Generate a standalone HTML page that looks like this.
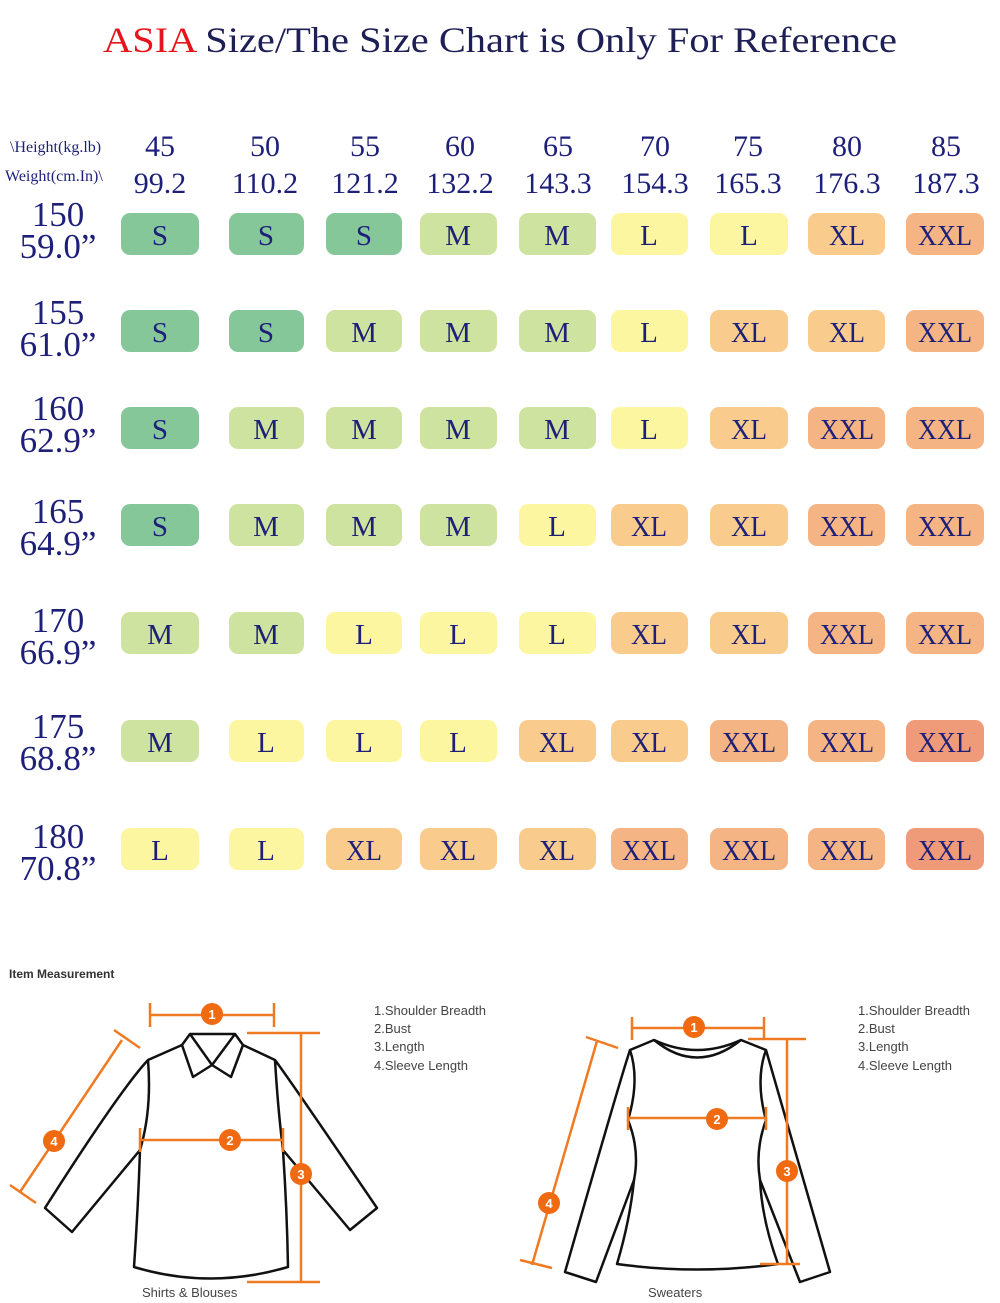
<!DOCTYPE html>
<html><head><meta charset="utf-8"><style>
html,body{margin:0;padding:0;background:#fff;}
svg{display:block;}
.s{font-family:"Liberation Serif",serif;fill:#1d1f78;}
.c{font-family:"Liberation Serif",serif;fill:#1d1f78;font-size:30px;text-anchor:middle;}
.l{font-family:"Liberation Sans",sans-serif;font-size:13px;fill:#444;}
.o{stroke:#f07a22;stroke-width:2.5;fill:none;}
.k{stroke:#111;stroke-width:2.5;fill:none;stroke-linejoin:round;}
.n{font-family:"Liberation Sans",sans-serif;font-size:13px;font-weight:bold;fill:#fff;text-anchor:middle;}
</style></head><body>
<svg width="1000" height="1303" viewBox="0 0 1000 1303" xmlns="http://www.w3.org/2000/svg">
<text x="103" y="52" textLength="794" lengthAdjust="spacingAndGlyphs" font-family="Liberation Serif, serif" font-size="36" fill="#1d1f55"><tspan fill="#e8141c">ASIA</tspan> Size/The Size Chart is Only For Reference</text>
<text x="10" y="152" class="s" font-size="16">\Height(kg.lb)</text>
<text x="5" y="181" class="s" font-size="16">Weight(cm.In)\</text>
<g class="c">
<text x="160" y="156">45</text><text x="265" y="156">50</text><text x="365" y="156">55</text><text x="460" y="156">60</text><text x="558" y="156">65</text><text x="655" y="156">70</text><text x="748" y="156">75</text><text x="847" y="156">80</text><text x="946" y="156">85</text>
<text x="160" y="193">99.2</text><text x="265" y="193">110.2</text><text x="365" y="193">121.2</text><text x="460" y="193">132.2</text><text x="558" y="193">143.3</text><text x="655" y="193">154.3</text><text x="748" y="193">165.3</text><text x="847" y="193">176.3</text><text x="946" y="193">187.3</text>
</g>
<g class="c" style="font-size:35px">
<text x="58" y="226">150</text><text x="58" y="258">59.0”</text>
<text x="58" y="324">155</text><text x="58" y="356">61.0”</text>
<text x="58" y="420">160</text><text x="58" y="452">62.9”</text>
<text x="58" y="523">165</text><text x="58" y="555">64.9”</text>
<text x="58" y="632">170</text><text x="58" y="664">66.9”</text>
<text x="58" y="738">175</text><text x="58" y="770">68.8”</text>
<text x="58" y="848">180</text><text x="58" y="880">70.8”</text>
</g>
<text x="9" y="978" font-family="Liberation Sans, sans-serif" font-size="12" font-weight="bold" fill="#333">Item Measurement</text>
<path class="k" d="M190,1034 L235,1034 L243,1045 L275,1060 Q290,1080 377,1208 L350,1230 L283,1150 Q287,1210 288,1267 Q210,1290 134,1267 Q138,1210 140,1150 L72,1232 L45,1208 Q120,1090 148,1060 L182,1045 Z"/>
<path class="k" d="M190,1034 L212,1065 L235,1034 M182,1045 L193,1077 L212,1065 L231,1077 L243,1045 M148,1060 Q152,1110 140,1150 M275,1060 Q278,1110 283,1150"/>
<path class="o" d="M150,1015 H274 M150,1003 V1027 M274,1003 V1027 M140,1140 H283 M140,1128 V1152 M283,1128 V1152 M301,1033 V1282 M247,1033 H320 M247,1282 H320 M122,1040 L20,1192 M114,1030 L140,1048 M10,1185 L36,1203"/>
<circle cx="212" cy="1014" r="11" fill="#f06a12"/><text x="212" y="1019" class="n">1</text>
<circle cx="230" cy="1140" r="11" fill="#f06a12"/><text x="230" y="1145" class="n">2</text>
<circle cx="301" cy="1174" r="11" fill="#f06a12"/><text x="301" y="1179" class="n">3</text>
<circle cx="54" cy="1141" r="11" fill="#f06a12"/><text x="54" y="1146" class="n">4</text>
<text x="142" y="1297" class="l">Shirts &amp; Blouses</text>
<text class="l" x="374" y="1015">1.Shoulder Breadth</text><text class="l" x="374" y="1033">2.Bust</text><text class="l" x="374" y="1051">3.Length</text><text class="l" x="374" y="1070">4.Sleeve Length</text>
<path class="k" d="M654,1040 Q697,1060 741,1040 L766,1050 Q775,1080 830,1272 L800,1282 L760,1180 Q762,1220 778,1264 Q697,1275 617,1264 Q630,1220 634,1180 L596,1282 L565,1272 Q620,1080 630,1050 Z"/>
<path class="k" d="M630,1050 Q640,1080 628,1120 Q640,1150 634,1180 M766,1050 Q755,1080 766,1120 Q755,1150 760,1180 M654,1040 Q697,1075 741,1040"/>
<path class="o" d="M632,1028 H764 M632,1017 V1040 M764,1017 V1040 M628,1118 H766 M628,1107 V1130 M766,1107 V1130 M787,1039 V1264 M748,1039 H806 M760,1264 H800 M597,1041 L532,1265 M586,1037 L618,1048 M520,1260 L552,1268"/>
<circle cx="694" cy="1027" r="11" fill="#f06a12"/><text x="694" y="1032" class="n">1</text>
<circle cx="717" cy="1119" r="11" fill="#f06a12"/><text x="717" y="1124" class="n">2</text>
<circle cx="787" cy="1171" r="11" fill="#f06a12"/><text x="787" y="1176" class="n">3</text>
<circle cx="549" cy="1203" r="11" fill="#f06a12"/><text x="549" y="1208" class="n">4</text>
<text x="648" y="1297" class="l">Sweaters</text>
<text class="l" x="858" y="1015">1.Shoulder Breadth</text><text class="l" x="858" y="1033">2.Bust</text><text class="l" x="858" y="1051">3.Length</text><text class="l" x="858" y="1070">4.Sleeve Length</text>

<g font-family="Liberation Serif, serif" font-size="29" fill="#1d1f78" text-anchor="middle">
<rect x="121" y="213" width="78" height="42" rx="9" fill="#86c79a"/><text x="160" y="245">S</text>
<rect x="229" y="213" width="75" height="42" rx="9" fill="#86c79a"/><text x="266" y="245">S</text>
<rect x="326" y="213" width="76" height="42" rx="9" fill="#86c79a"/><text x="364" y="245">S</text>
<rect x="420" y="213" width="77" height="42" rx="9" fill="#cfe3a0"/><text x="458" y="245">M</text>
<rect x="519" y="213" width="77" height="42" rx="9" fill="#cfe3a0"/><text x="557" y="245">M</text>
<rect x="611" y="213" width="77" height="42" rx="9" fill="#fdf6a0"/><text x="649" y="245">L</text>
<rect x="710" y="213" width="78" height="42" rx="9" fill="#fdf6a0"/><text x="749" y="245">L</text>
<rect x="808" y="213" width="77" height="42" rx="9" fill="#f9cc8e"/><text x="847" y="245" textLength="36" lengthAdjust="spacingAndGlyphs">XL</text>
<rect x="906" y="213" width="78" height="42" rx="9" fill="#f4b483"/><text x="945" y="245" textLength="54" lengthAdjust="spacingAndGlyphs">XXL</text>

<rect x="121" y="310" width="78" height="42" rx="9" fill="#86c79a"/><text x="160" y="342">S</text>
<rect x="229" y="310" width="75" height="42" rx="9" fill="#86c79a"/><text x="266" y="342">S</text>
<rect x="326" y="310" width="76" height="42" rx="9" fill="#cfe3a0"/><text x="364" y="342">M</text>
<rect x="420" y="310" width="77" height="42" rx="9" fill="#cfe3a0"/><text x="458" y="342">M</text>
<rect x="519" y="310" width="77" height="42" rx="9" fill="#cfe3a0"/><text x="557" y="342">M</text>
<rect x="611" y="310" width="77" height="42" rx="9" fill="#fdf6a0"/><text x="649" y="342">L</text>
<rect x="710" y="310" width="78" height="42" rx="9" fill="#f9cc8e"/><text x="749" y="342" textLength="36" lengthAdjust="spacingAndGlyphs">XL</text>
<rect x="808" y="310" width="77" height="42" rx="9" fill="#f9cc8e"/><text x="847" y="342" textLength="36" lengthAdjust="spacingAndGlyphs">XL</text>
<rect x="906" y="310" width="78" height="42" rx="9" fill="#f4b483"/><text x="945" y="342" textLength="54" lengthAdjust="spacingAndGlyphs">XXL</text>

<rect x="121" y="407" width="78" height="42" rx="9" fill="#86c79a"/><text x="160" y="439">S</text>
<rect x="229" y="407" width="75" height="42" rx="9" fill="#cfe3a0"/><text x="266" y="439">M</text>
<rect x="326" y="407" width="76" height="42" rx="9" fill="#cfe3a0"/><text x="364" y="439">M</text>
<rect x="420" y="407" width="77" height="42" rx="9" fill="#cfe3a0"/><text x="458" y="439">M</text>
<rect x="519" y="407" width="77" height="42" rx="9" fill="#cfe3a0"/><text x="557" y="439">M</text>
<rect x="611" y="407" width="77" height="42" rx="9" fill="#fdf6a0"/><text x="649" y="439">L</text>
<rect x="710" y="407" width="78" height="42" rx="9" fill="#f9cc8e"/><text x="749" y="439" textLength="36" lengthAdjust="spacingAndGlyphs">XL</text>
<rect x="808" y="407" width="77" height="42" rx="9" fill="#f4b483"/><text x="847" y="439" textLength="54" lengthAdjust="spacingAndGlyphs">XXL</text>
<rect x="906" y="407" width="78" height="42" rx="9" fill="#f4b483"/><text x="945" y="439" textLength="54" lengthAdjust="spacingAndGlyphs">XXL</text>

<rect x="121" y="504" width="78" height="42" rx="9" fill="#86c79a"/><text x="160" y="536">S</text>
<rect x="229" y="504" width="75" height="42" rx="9" fill="#cfe3a0"/><text x="266" y="536">M</text>
<rect x="326" y="504" width="76" height="42" rx="9" fill="#cfe3a0"/><text x="364" y="536">M</text>
<rect x="420" y="504" width="77" height="42" rx="9" fill="#cfe3a0"/><text x="458" y="536">M</text>
<rect x="519" y="504" width="77" height="42" rx="9" fill="#fdf6a0"/><text x="557" y="536">L</text>
<rect x="611" y="504" width="77" height="42" rx="9" fill="#f9cc8e"/><text x="649" y="536" textLength="36" lengthAdjust="spacingAndGlyphs">XL</text>
<rect x="710" y="504" width="78" height="42" rx="9" fill="#f9cc8e"/><text x="749" y="536" textLength="36" lengthAdjust="spacingAndGlyphs">XL</text>
<rect x="808" y="504" width="77" height="42" rx="9" fill="#f4b483"/><text x="847" y="536" textLength="54" lengthAdjust="spacingAndGlyphs">XXL</text>
<rect x="906" y="504" width="78" height="42" rx="9" fill="#f4b483"/><text x="945" y="536" textLength="54" lengthAdjust="spacingAndGlyphs">XXL</text>

<rect x="121" y="612" width="78" height="42" rx="9" fill="#cfe3a0"/><text x="160" y="644">M</text>
<rect x="229" y="612" width="75" height="42" rx="9" fill="#cfe3a0"/><text x="266" y="644">M</text>
<rect x="326" y="612" width="76" height="42" rx="9" fill="#fdf6a0"/><text x="364" y="644">L</text>
<rect x="420" y="612" width="77" height="42" rx="9" fill="#fdf6a0"/><text x="458" y="644">L</text>
<rect x="519" y="612" width="77" height="42" rx="9" fill="#fdf6a0"/><text x="557" y="644">L</text>
<rect x="611" y="612" width="77" height="42" rx="9" fill="#f9cc8e"/><text x="649" y="644" textLength="36" lengthAdjust="spacingAndGlyphs">XL</text>
<rect x="710" y="612" width="78" height="42" rx="9" fill="#f9cc8e"/><text x="749" y="644" textLength="36" lengthAdjust="spacingAndGlyphs">XL</text>
<rect x="808" y="612" width="77" height="42" rx="9" fill="#f4b483"/><text x="847" y="644" textLength="54" lengthAdjust="spacingAndGlyphs">XXL</text>
<rect x="906" y="612" width="78" height="42" rx="9" fill="#f4b483"/><text x="945" y="644" textLength="54" lengthAdjust="spacingAndGlyphs">XXL</text>

<rect x="121" y="720" width="78" height="42" rx="9" fill="#cfe3a0"/><text x="160" y="752">M</text>
<rect x="229" y="720" width="75" height="42" rx="9" fill="#fdf6a0"/><text x="266" y="752">L</text>
<rect x="326" y="720" width="76" height="42" rx="9" fill="#fdf6a0"/><text x="364" y="752">L</text>
<rect x="420" y="720" width="77" height="42" rx="9" fill="#fdf6a0"/><text x="458" y="752">L</text>
<rect x="519" y="720" width="77" height="42" rx="9" fill="#f9cc8e"/><text x="557" y="752" textLength="36" lengthAdjust="spacingAndGlyphs">XL</text>
<rect x="611" y="720" width="77" height="42" rx="9" fill="#f9cc8e"/><text x="649" y="752" textLength="36" lengthAdjust="spacingAndGlyphs">XL</text>
<rect x="710" y="720" width="78" height="42" rx="9" fill="#f4b483"/><text x="749" y="752" textLength="54" lengthAdjust="spacingAndGlyphs">XXL</text>
<rect x="808" y="720" width="77" height="42" rx="9" fill="#f4b483"/><text x="847" y="752" textLength="54" lengthAdjust="spacingAndGlyphs">XXL</text>
<rect x="906" y="720" width="78" height="42" rx="9" fill="#ef9a78"/><text x="945" y="752" textLength="54" lengthAdjust="spacingAndGlyphs">XXL</text>

<rect x="121" y="828" width="78" height="42" rx="9" fill="#fdf6a0"/><text x="160" y="860">L</text>
<rect x="229" y="828" width="75" height="42" rx="9" fill="#fdf6a0"/><text x="266" y="860">L</text>
<rect x="326" y="828" width="76" height="42" rx="9" fill="#f9cc8e"/><text x="364" y="860" textLength="36" lengthAdjust="spacingAndGlyphs">XL</text>
<rect x="420" y="828" width="77" height="42" rx="9" fill="#f9cc8e"/><text x="458" y="860" textLength="36" lengthAdjust="spacingAndGlyphs">XL</text>
<rect x="519" y="828" width="77" height="42" rx="9" fill="#f9cc8e"/><text x="557" y="860" textLength="36" lengthAdjust="spacingAndGlyphs">XL</text>
<rect x="611" y="828" width="77" height="42" rx="9" fill="#f4b483"/><text x="649" y="860" textLength="54" lengthAdjust="spacingAndGlyphs">XXL</text>
<rect x="710" y="828" width="78" height="42" rx="9" fill="#f4b483"/><text x="749" y="860" textLength="54" lengthAdjust="spacingAndGlyphs">XXL</text>
<rect x="808" y="828" width="77" height="42" rx="9" fill="#f4b483"/><text x="847" y="860" textLength="54" lengthAdjust="spacingAndGlyphs">XXL</text>
<rect x="906" y="828" width="78" height="42" rx="9" fill="#ef9a78"/><text x="945" y="860" textLength="54" lengthAdjust="spacingAndGlyphs">XXL</text>
</g>
</svg>
</body></html>
